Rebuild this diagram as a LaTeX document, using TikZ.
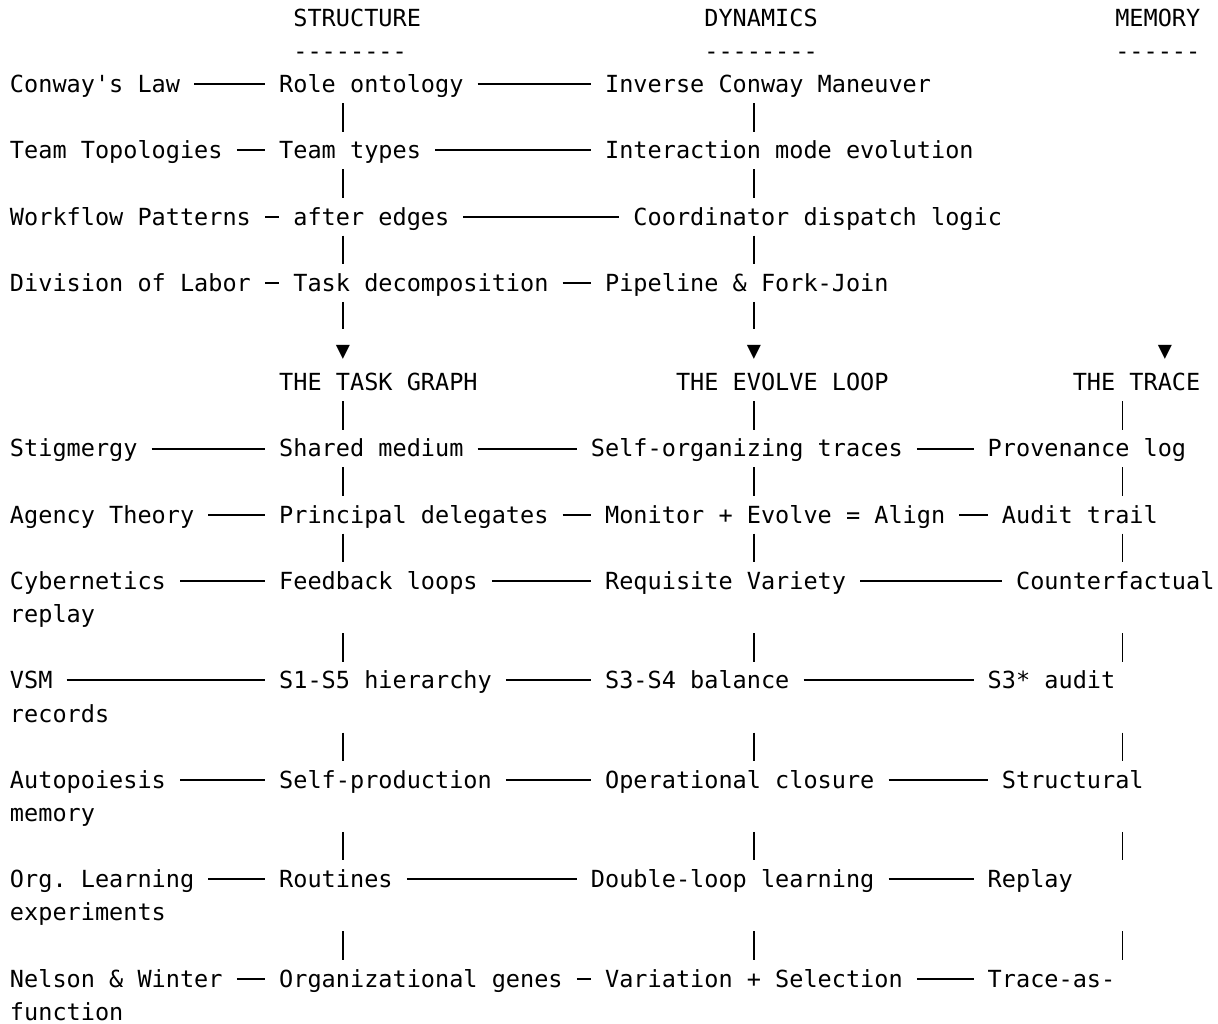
\documentclass[tikz,border=0pt]{standalone}
\usepackage{fontspec}
\setmonofont{DejaVu Sans Mono}
\newcommand{\gridfont}{\ttfamily\fontsize{11.77pt}{16.565pt}\selectfont}

\begin{document}
\begin{tikzpicture}[
    x=7.085pt, y=-16.565pt,
    cell/.style={anchor=base west, font=\gridfont, inner xsep=7.085pt, inner ysep=0pt, outer sep=0pt, text height=13.65pt, text depth=5.25pt},
    tip/.style={font=\gridfont, inner sep=0pt, outer sep=0pt},
    hrule/.style={line width=1pt},
    vrule/.style={line width=0.7pt},
    wrapskip/.style={shorten <=16.565pt},
]
\useasboundingbox (-0.7057,-0.5433) rectangle (85.25,30.335);

% === Column lines ===
\coordinate (colS) at (23.5, 0);
\coordinate (colD) at (52.5, 0);
\coordinate (colM) at (78.5, 0);

% === Headers ===
\node[cell] (hstruct) at (19, 0.25) {STRUCTURE};
\node[cell] (hdyn) at (48, 0.25) {DYNAMICS};
\node[cell] (hmem) at (77, 0.25) {MEMORY};
\node[cell] (ustruct) at (19, 1.25) {--------};
\node[cell] (udyn) at (48, 1.25) {--------};
\node[cell] (umem) at (77, 1.25) {------};

% === Upper block ===
\node[cell] (conway) at (-1, 2.25) {Conway\textquotesingle s Law};
\node[cell] (role) at (18, 2.25) {Role ontology};
\node[cell] (inverse) at (41, 2.25) {Inverse Conway Maneuver};

\node[cell] (topo) at (-1, 4.25) {Team Topologies};
\node[cell] (types) at (18, 4.25) {Team types};
\node[cell] (interact) at (41, 4.25) {Interaction mode evolution};

\node[cell] (workflow) at (-1, 6.25) {Workflow Patterns};
\node[cell] (after) at (19, 6.25) {after edges};
\node[cell] (dispatch) at (43, 6.25) {Coordinator dispatch logic};

\node[cell] (labor) at (-1, 8.25) {Division of Labor};
\node[cell] (decomp) at (19, 8.25) {Task decomposition};
\node[cell] (pipeline) at (41, 8.25) {Pipeline \& Fork-Join};

% === Arrow tips ===
\node[tip] (tipS) at (23.5, 10.08) {▼};
\node[tip] (tipD) at (52.5, 10.08) {▼};
\node[tip] (tipM) at (81.5, 10.08) {▼};

% === Core three ===
\node[cell] (graph) at (18, 11.25) {THE TASK GRAPH};
\node[cell] (evolve) at (46, 11.25) {THE EVOLVE LOOP};
\node[cell] (trace) at (74, 11.25) {THE TRACE};

% === Lower block ===
\node[cell] (stig) at (-1, 13.25) {Stigmergy};
\node[cell] (medium) at (18, 13.25) {Shared medium};
\node[cell] (selforg) at (40, 13.25) {Self-organizing traces};
\node[cell] (prov) at (68, 13.25) {Provenance log};

\node[cell] (agency) at (-1, 15.25) {Agency Theory};
\node[cell] (principal) at (18, 15.25) {Principal delegates};
\node[cell] (monitor) at (41, 15.25) {Monitor + Evolve = Align};
\node[cell] (audit) at (69, 15.25) {Audit trail};

\node[cell] (cyber) at (-1, 17.25) {Cybernetics};
\node[cell] (feedback) at (18, 17.25) {Feedback loops};
\node[cell] (requisite) at (41, 17.25) {Requisite Variety};
\node[cell] (counter) at (70, 17.25) {Counterfactual};
\node[cell] (replay) at (-1, 18.25) {replay};

\node[cell] (vsm) at (-1, 20.25) {VSM};
\node[cell] (hier) at (18, 20.25) {S1-S5 hierarchy};
\node[cell] (balance) at (41, 20.25) {S3-S4 balance};
\node[cell] (s3audit) at (68, 20.25) {S3* audit};
\node[cell] (records) at (-1, 21.25) {records};

\node[cell] (autop) at (-1, 23.25) {Autopoiesis};
\node[cell] (selfprod) at (18, 23.25) {Self-production};
\node[cell] (closure) at (41, 23.25) {Operational closure};
\node[cell] (structural) at (69, 23.25) {Structural};
\node[cell] (memory) at (-1, 24.25) {memory};

\node[cell] (orglearn) at (-1, 26.25) {Org. Learning};
\node[cell] (routines) at (18, 26.25) {Routines};
\node[cell] (dloop) at (40, 26.25) {Double-loop learning};
\node[cell] (replaym) at (68, 26.25) {Replay};
\node[cell] (experiments) at (-1, 27.25) {experiments};

\node[cell] (nelson) at (-1, 29.25) {Nelson \& Winter};
\node[cell] (genes) at (18, 29.25) {Organizational genes};
\node[cell] (variation) at (41, 29.25) {Variation + Selection};
\node[cell] (traceas) at (68, 29.25) {Trace-as-};
\node[cell] (function) at (-1, 30.25) {function};

% === Horizontal links ===
\draw[hrule] (conway) -- (role);
\draw[hrule] (role) -- (inverse);
\draw[hrule] (topo) -- (types);
\draw[hrule] (types) -- (interact);
\draw[hrule] (workflow) -- (after);
\draw[hrule] (after) -- (dispatch);
\draw[hrule] (labor) -- (decomp);
\draw[hrule] (decomp) -- (pipeline);

\draw[hrule] (stig) -- (medium);
\draw[hrule] (medium) -- (selforg);
\draw[hrule] (selforg) -- (prov);
\draw[hrule] (agency) -- (principal);
\draw[hrule] (principal) -- (monitor);
\draw[hrule] (monitor) -- (audit);
\draw[hrule] (cyber) -- (feedback);
\draw[hrule] (feedback) -- (requisite);
\draw[hrule] (requisite) -- (counter);
\draw[hrule] (vsm) -- (hier);
\draw[hrule] (hier) -- (balance);
\draw[hrule] (balance) -- (s3audit);
\draw[hrule] (autop) -- (selfprod);
\draw[hrule] (selfprod) -- (closure);
\draw[hrule] (closure) -- (structural);
\draw[hrule] (orglearn) -- (routines);
\draw[hrule] (routines) -- (dloop);
\draw[hrule] (dloop) -- (replaym);
\draw[hrule] (nelson) -- (genes);
\draw[hrule] (genes) -- (variation);
\draw[hrule] (variation) -- (traceas);

% === Vertical links: upper block ===
\draw[vrule] (role.south -| colS) -- (types.north -| colS);
\draw[vrule] (types.south -| colS) -- (after.north -| colS);
\draw[vrule] (after.south -| colS) -- (decomp.north -| colS);
\draw[vrule, shorten >=7.9pt] (decomp.south -| colS) -- (tipS.north);
\draw[vrule] (inverse.south -| colD) -- (interact.north -| colD);
\draw[vrule] (interact.south -| colD) -- (dispatch.north -| colD);
\draw[vrule] (dispatch.south -| colD) -- (pipeline.north -| colD);
\draw[vrule, shorten >=7.9pt] (pipeline.south -| colD) -- (tipD.north);

% === Vertical links: lower block ===
\draw[vrule] (graph.south -| colS) -- (medium.north -| colS);
\draw[vrule] (medium.south -| colS) -- (principal.north -| colS);
\draw[vrule] (principal.south -| colS) -- (feedback.north -| colS);
\draw[vrule, wrapskip] (feedback.south -| colS) -- (hier.north -| colS);
\draw[vrule, wrapskip] (hier.south -| colS) -- (selfprod.north -| colS);
\draw[vrule, wrapskip] (selfprod.south -| colS) -- (routines.north -| colS);
\draw[vrule, wrapskip] (routines.south -| colS) -- (genes.north -| colS);

\draw[vrule] (evolve.south -| colD) -- (selforg.north -| colD);
\draw[vrule] (selforg.south -| colD) -- (monitor.north -| colD);
\draw[vrule] (monitor.south -| colD) -- (requisite.north -| colD);
\draw[vrule, wrapskip] (requisite.south -| colD) -- (balance.north -| colD);
\draw[vrule, wrapskip] (balance.south -| colD) -- (closure.north -| colD);
\draw[vrule, wrapskip] (closure.south -| colD) -- (dloop.north -| colD);
\draw[vrule, wrapskip] (dloop.south -| colD) -- (variation.north -| colD);

\draw[vrule] (trace.south -| colM) -- (prov.north -| colM);
\draw[vrule] (prov.south -| colM) -- (audit.north -| colM);
\draw[vrule] (audit.south -| colM) -- (counter.north -| colM);
\draw[vrule, wrapskip] (counter.south -| colM) -- (s3audit.north -| colM);
\draw[vrule, wrapskip] (s3audit.south -| colM) -- (structural.north -| colM);
\draw[vrule, wrapskip] (structural.south -| colM) -- (replaym.north -| colM);
\draw[vrule, wrapskip] (replaym.south -| colM) -- (traceas.north -| colM);

\end{tikzpicture}
\end{document}
